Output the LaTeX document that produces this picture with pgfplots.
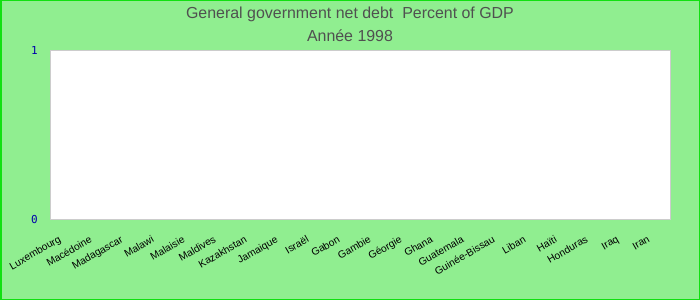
\documentclass[border=0pt]{standalone}
\usepackage{fontspec}
\setmainfont{Liberation Sans}
\setmonofont{DejaVu Sans Mono}
\usepackage{pgfplots}
\pgfplotsset{compat=1.18}
\definecolor{bg}{HTML}{90EE90}
\definecolor{framec}{HTML}{11E011}
\definecolor{titlec}{HTML}{505050}
\definecolor{tickblue}{HTML}{0000AA}
\definecolor{plotframe}{HTML}{CCCCCC}
\begin{document}
\begin{tikzpicture}
\fill[bg] (0bp,0bp) rectangle (700bp,300bp);
\useasboundingbox (0bp,0bp) rectangle (700bp,300bp);
\draw[framec, line width=1.5bp] (0.75bp,0.75bp) rectangle (699.25bp,299.25bp);
\node[text=titlec, font=\fontsize{16}{18}\selectfont, anchor=base] at (350bp,281.7bp) {General government net debt\ \ Percent of GDP};
\node[text=titlec, font=\fontsize{16}{18}\selectfont, anchor=base] at (350bp,258.3bp) {Année 1998};
\begin{axis}[
  at={(50bp,80bp)}, anchor=south west,
  width=620bp, height=169bp, scale only axis,
  xmin=-0.5, xmax=19.5, ymin=0, ymax=1,
  axis background/.style={fill=white},
  axis line style={draw=plotframe, line width=1bp},
  xtick={0,...,19},
  xticklabels={Luxembourg,Macédoine,Madagascar,Malawi,Malaisie,Maldives,Kazakhstan,Jamaique,Israël,Gabon,Gambie,Géorgie,Ghana,Guatemala,Guinée-Bissau,Liban,Haïti,Honduras,Iraq,Iran},
  ytick={0,1}, yticklabels={0,1},
  major tick length=0pt,
  tick style={draw=none},
  xticklabel style={rotate=30, anchor=north east, font=\fontsize{10.3}{12}\selectfont, inner sep=0pt, xshift=-14bp, yshift=-9bp},
  yticklabel style={font=\ttfamily\fontsize{11}{12}\selectfont, text=tickblue, anchor=east, inner sep=0pt, xshift=-12bp},
]
\addplot[draw=none, forget plot] coordinates {(0,0)};
\end{axis}
\end{tikzpicture}
\end{document}
